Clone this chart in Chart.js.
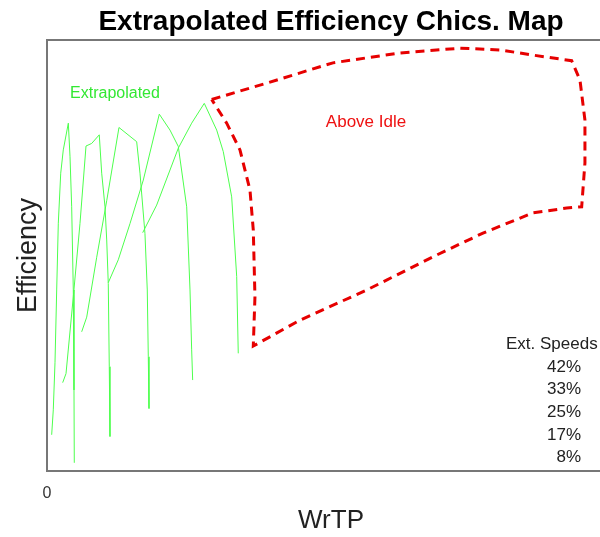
<!DOCTYPE html>
<html>
<head>
<meta charset="utf-8">
<script src="https://cdn.jsdelivr.net/npm/chart.js@4.4.1/dist/chart.umd.min.js"></script>
<style>
  html, body { margin: 0; padding: 0; background: #fff; overflow: hidden; }
  #wrap { width: 615px; height: 537px; }
</style>
</head>
<body>
<div id="wrap"><canvas id="myChart" width="615" height="537"></canvas></div>
<script>
// extrapolated efficiency curves, one per speed
var speedLabels = ['42%', '33%', '25%', '17%', '8%'];

var wrtp8 = [0.93, 1.25, 1.59, 1.93, 2.25, 2.73, 3.24, 4.24, 4.58, 4.91, 5.23, 5.37, 5.43];
var eff8  = [8.4, 14.2, 25.1, 42.0, 57.5, 69.1, 74.5, 80.7, 72.9, 61.3, 42.0, 18.8, 1.9];

var wrtp17 = [3.12, 3.78, 5.23, 6.56, 7.76, 8.89, 10.40, 10.88, 11.54, 11.88, 12.19, 12.39, 12.53];
var eff17  = [20.5, 22.6, 40.4, 57.4, 75.4, 76.0, 78.0, 69.1, 61.3, 53.6, 43.5, 24.2, 8.0];

var wrtp25 = [6.90, 7.90, 9.89, 11.88, 14.32, 17.84, 18.50, 19.49, 19.95, 20.15, 20.29];
var eff25  = [32.3, 35.7, 49.6, 62.7, 79.7, 76.4, 69.1, 55.1, 42.0, 26.5, 14.5];

var wrtp33 = [12.19, 14.18, 16.51, 19.16, 22.34, 24.47, 26.12, 27.79, 28.45, 28.78, 28.98];
var eff33  = [43.7, 49.0, 57.4, 67.5, 82.8, 79.1, 75.3, 61.3, 42.0, 28.1, 21.1];

var wrtp42 = [19.04, 21.82, 26.12, 28.78, 31.29, 33.76, 35.07, 36.74, 37.74, 38.05];
var eff42  = [55.3, 61.7, 74.9, 80.7, 85.3, 79.1, 74.1, 63.6, 45.1, 27.3];

// above idle region outline
var idleWrtp = [32.76, 43.70, 56.89, 70.22, 82.16, 90.11, 96.68, 104.38, 106.03, 107.02, 107.02, 106.37,
                103.38, 96.68, 86.73, 76.79, 63.62, 50.33, 41.04, 41.37, 41.04, 40.38, 38.39, 35.75, 32.76];
var idleEff  = [86.2, 90.0, 94.7, 97.0, 98.1, 97.7, 96.5, 95.2, 90.7, 81.4, 71.5, 61.3,
                61.0, 59.9, 55.2, 49.7, 42.0, 35.0, 29.0, 40.4, 55.9, 65.2, 74.5, 80.7, 86.2];

var xTicks = [0];

var green = '#4dff4d';
var red = '#e60000';
var fontFam = '"Liberation Sans", Arial, sans-serif';

function pts(xs, ys) {
    var out = [];
    for (let i = 0; i < xs.length; i++) {
        out.push({x: xs[i], y: ys[i]});
    }
    return out;
}

function curve(label, xs, ys) {
    return {
        label: label,
        data: pts(xs, ys),
        showLine: true,
        borderColor: green,
        borderWidth: 1,
        pointRadius: 0,
        tension: 0
    };
}

var datasets = [
    curve('8%', wrtp8, eff8),
    curve('17%', wrtp17, eff17),
    curve('25%', wrtp25, eff25),
    curve('33%', wrtp33, eff33),
    curve('42%', wrtp42, eff42),
    {
        label: 'Above Idle',
        data: pts(idleWrtp, idleEff),
        showLine: true,
        borderColor: red,
        borderWidth: 3,
        borderDash: [9, 6],
        pointRadius: 0,
        tension: 0
    }
];

// labels drawn on top of the plot
var textPlugin = {
    id: 'texts',
    afterDraw: function(chart) {
        var c = chart.ctx;
        c.save();
        c.textBaseline = 'middle';
        c.font = '16px ' + fontFam;
        c.fillStyle = '#33e833';
        c.textAlign = 'center';
        c.fillText('Extrapolated', 115, 94);
        c.font = '17px ' + fontFam;
        c.fillStyle = '#ee1111';
        c.fillText('Above Idle', 366, 122);

        c.font = '17px ' + fontFam;
        c.fillStyle = '#222';
        c.textAlign = 'left';
        c.fillText('Ext. Speeds', 506, 344);
        c.textAlign = 'right';
        for (let i = 0; i < speedLabels.length; i++) {
            c.fillText(speedLabels[i], 581, 367 + i * 22.7);
        }
        c.restore();
    }
};

var ctx = document.getElementById('myChart').getContext('2d');
var myChart = new Chart(ctx, {
    type: 'scatter',
    data: {datasets: datasets},
    plugins: [textPlugin],
    options: {
        responsive: false,
        animation: false,
        layout: {padding: 0},
        plugins: {
            legend: {display: false},
            tooltip: {enabled: false},
            title: {
                display: true,
                fullSize: false,
                text: 'Extrapolated Efficiency Chics. Map',
                color: '#000',
                font: {family: fontFam, size: 28, weight: 'bold'},
                padding: {top: 5, bottom: 1.4}
            }
        },
        scales: {
            x: {
                type: 'linear',
                min: 0,
                max: 113,
                afterBuildTicks: function(s) { s.ticks = xTicks.map(v => ({value: v})); },
                ticks: {
                    color: '#333',
                    font: {family: fontFam, size: 16},
                    padding: 13,
                    callback: function(v) { return String(v); }
                },
                grid: {display: false, drawTicks: false},
                border: {display: true, color: '#777', width: 2},
                title: {
                    display: true,
                    text: 'WrTP',
                    color: '#222',
                    font: {family: fontFam, size: 26},
                    padding: {top: 0, bottom: 1}
                },
                afterFit: function(s) { s.height = 66; }
            },
            xTop: {
                type: 'linear',
                position: 'top',
                min: 0,
                max: 113,
                ticks: {display: false},
                grid: {display: false, drawTicks: false},
                border: {display: true, color: '#777', width: 2},
                afterFit: function(s) { s.height = 0; }
            },
            y: {
                type: 'linear',
                min: 0,
                max: 100,
                ticks: {display: false},
                grid: {display: false, drawTicks: false},
                border: {display: true, color: '#777', width: 2},
                title: {
                    display: true,
                    text: 'Efficiency',
                    color: '#222',
                    font: {family: fontFam, size: 27},
                    padding: {top: 12, bottom: 0}
                },
                afterFit: function(s) { s.width = 47; }
            }
        }
    }
});
</script>
</body>
</html>
